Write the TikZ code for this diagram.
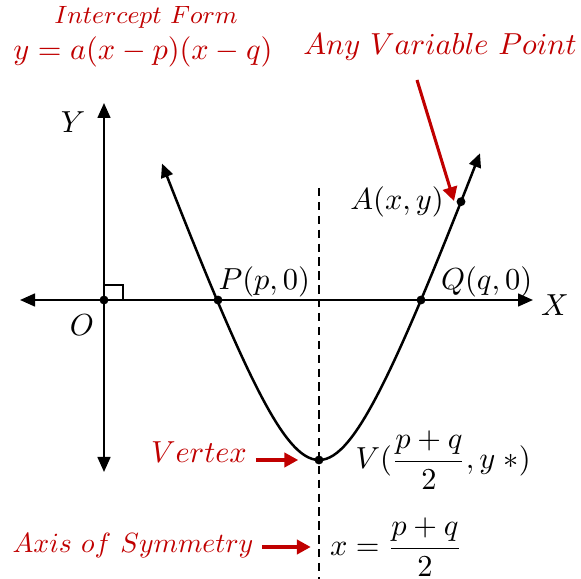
\documentclass[tikz,border=0pt]{standalone}
\usepackage{amsmath}
\usetikzlibrary{arrows.meta,positioning}
\definecolor{darkred}{HTML}{C00000}

\begin{document}
\begin{tikzpicture}[x=0.36pt,y=-0.36pt,font=\fontsize{11}{13}\selectfont,
axis/.style={line width=0.8pt,{Triangle[length=5.4pt,width=4.6pt]}-{Triangle[length=5.4pt,width=4.6pt]}},
curve/.style={line width=0.9pt,{Triangle[length=5pt,width=4.4pt]}-{Triangle[length=5pt,width=4.4pt]}},
dot/.style={circle,fill,inner sep=0pt,minimum size=3.2pt},
lbl/.style={inner sep=1pt},
note/.style={text=darkred,inner sep=1pt},
pointer/.style={darkred,line width=1.1pt,-{Triangle[length=5pt,width=5.2pt]}}]
\useasboundingbox (0,0) rectangle (581,579);
% axes and symmetry line
\coordinate (xl) at (20,300); \coordinate (xr) at (533,300);
\coordinate (yb) at (104,472); \coordinate (yt) at (104,103);
\coordinate (st) at (319,188); \coordinate (sb) at (319,579);
\draw[axis](xl)--(xr);
\draw[axis](yb)--(yt);
\draw[line width=0.6pt,dash pattern=on 3pt off 2pt](st)--(sb);
% points
\coordinate (O) at (104,300);
\coordinate (P) at (218,300);
\coordinate (Q) at (421,300);
\coordinate (V) at (319,460);
\coordinate (A) at ({319+142},{460-164.6*(sqrt(1+(142/60)^2)-1)});
\draw[line width=0.75pt](O)++(0,-15)-|++(19,15);
\draw[curve]plot[domain=-157:161,samples=90]({319+\x},{460-164.6*(sqrt(1+(\x/60)^2)-1)});
\foreach \p in {O,P,Q,V,A} \node[dot] at (\p) {};
% labels
\node[lbl](olbl) at (82,325){$O$};
\node[lbl](ylbl) at (73,122){$Y$};
\node[lbl](xlbl) at (555,305){$X$};
\node[lbl,above right=0pt and -1pt of P](plbl){$P(p,0)$};
\node[lbl,above right=0pt and 6pt of Q](qlbl){$Q(q,0)$};
\node[lbl,left=5pt of A](albl){$A(x,y)$};
\node[lbl,right=12pt of V](vlbl){$V(\dfrac{p+q}{2},y\;{*})$};
\node[lbl](eq) at (396,547){$x=\dfrac{p+q}{2}$};
% red notes
\node[note,font=\fontsize{9}{11}\selectfont](title) at (146,17){$Intercept\ Form$};
\node[note](form) at (143,52){$y=a(x-p)(x-q)$};
\node[note,font=\fontsize{10.5}{12}\selectfont](anote) at (440,47){$Any\ Variable\ Point$};
\node[note](vnote) at (199,452){$Vertex$};
\node[note,font=\fontsize{10}{12}\selectfont](snote) at (133,546){$Axis\ of\ Symmetry$};
\coordinate (atail) at (417,80); \coordinate (ahead) at (454,201);
\coordinate (sm) at (319,547);
\draw[pointer](atail)--(ahead);
\draw[pointer,shorten <=2pt,shorten >=7.5pt](vnote.east |- V)--(V);
\draw[pointer,shorten <=2pt,shorten >=3pt](snote.east |- sm)--(sm);
\end{tikzpicture}
\end{document}
